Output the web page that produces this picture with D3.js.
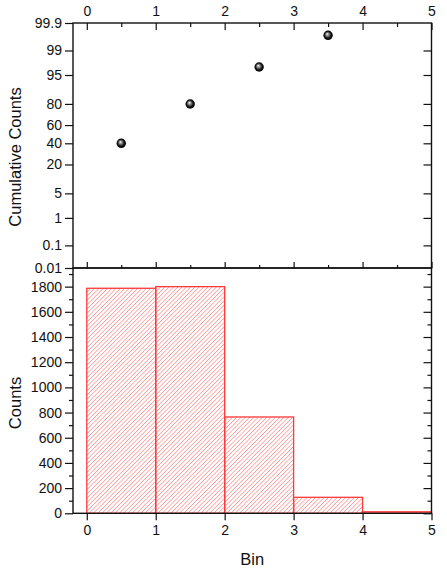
<!DOCTYPE html>
<html>
<head>
<meta charset="utf-8">
<script src="https://cdn.jsdelivr.net/npm/d3@7"></script>
<style>
  body { margin: 0; background: #fff; }
  text { font-family: "Liberation Sans", Arial, sans-serif; fill: #111; }
</style>
</head>
<body>
<script>
// ---------------- data ----------------
const binStarts = [0, 1, 2, 3, 4];
const binWidth = 1;
const counts = [1787, 1800, 765, 127, 12];
const cumX = [0.5, 1.5, 2.5, 3.5];
const cumPercent = [40, 79.9, 96.9, 99.7];
const probTicks = [0.01, 0.1, 1, 5, 20, 40, 60, 80, 95, 99, 99.9];
const probLabels = ["0.01", "0.1", "1", "5", "20", "40", "60", "80", "95", "99", "99.9"];
const binTicks = [0, 1, 2, 3, 4, 5];
const binMinor = [0.5, 1.5, 2.5, 3.5, 4.5];
const countTicks = [0, 200, 400, 600, 800, 1000, 1200, 1400, 1600, 1800];
const countMinor = [100, 300, 500, 700, 900, 1100, 1300, 1500, 1700, 1900];

// inverse normal cdf (Acklam) for the probability axis
function probit(p) {
  const a = [-39.69683028665376, 220.9460984245205, -275.9285104469687, 138.3577518672690, -30.66479806614716, 2.506628277459239];
  const b = [-54.47609879822406, 161.5858368580409, -155.6989798598866, 66.80131188771972, -13.28068155288572];
  const c = [-0.007784894002430293, -0.3223964580411365, -2.400758277161838, -2.549732539343734, 4.374664141464968, 2.938163982698783];
  const d = [0.007784695709041462, 0.3224671290700398, 2.445134137142996, 3.754408661907416];
  const pl = 0.02425;
  let q, r;
  if (p < pl) {
    q = Math.sqrt(-2 * Math.log(p));
    return (((((c[0]*q+c[1])*q+c[2])*q+c[3])*q+c[4])*q+c[5]) / ((((d[0]*q+d[1])*q+d[2])*q+d[3])*q+1);
  } else if (p <= 1 - pl) {
    q = p - 0.5; r = q * q;
    return (((((a[0]*r+a[1])*r+a[2])*r+a[3])*r+a[4])*r+a[5])*q / (((((b[0]*r+b[1])*r+b[2])*r+b[3])*r+b[4])*r+1);
  } else {
    q = Math.sqrt(-2 * Math.log(1 - p));
    return -(((((c[0]*q+c[1])*q+c[2])*q+c[3])*q+c[4])*q+c[5]) / ((((d[0]*q+d[1])*q+d[2])*q+d[3])*q+1);
  }
}

// ---------------- layout ----------------
const W = 447, H = 572;
const left = 73, right = 431.5;
const topY = 23, midY = 268, botY = 513.3;
const hatchGap = 4.3;

const svg = d3.select("body").append("svg")
  .attr("width", W).attr("height", H);

const defs = svg.append("defs");
const grad = defs.append("radialGradient").attr("id", "ball")
  .attr("cx", "50%").attr("cy", "50%").attr("r", "55%")
  .attr("fx", "40%").attr("fy", "35%");
grad.append("stop").attr("offset", "0%").attr("stop-color", "#fff");
grad.append("stop").attr("offset", "25%").attr("stop-color", "#9a9a9a");
grad.append("stop").attr("offset", "65%").attr("stop-color", "#111");
grad.append("stop").attr("offset", "100%").attr("stop-color", "#000");

// ---------------- scales ----------------
const x = d3.scaleLinear().domain([-0.2, 5]).range([left, right]);
const yz = d3.scaleLinear().domain([probit(0.0001), probit(0.999)]).range([midY, topY]);
const yc = d3.scaleLinear().domain([0, 1948]).range([botY, midY]);

function styleAxis(g) {
  g.select(".domain").remove();
  g.selectAll("line").attr("stroke", "#111").attr("stroke-width", 1.2);
  g.selectAll("text").attr("font-size", 14);
}

// ---------------- top panel ----------------
svg.append("g").attr("transform", `translate(0,${topY})`)
  .call(d3.axisTop(x).tickValues(binTicks).tickFormat(d3.format("d"))
    .tickSizeInner(-7).tickSizeOuter(0).tickPadding(7))
  .call(styleAxis);
svg.append("g").attr("transform", `translate(0,${topY})`)
  .call(d3.axisTop(x).tickValues(binMinor).tickFormat("").tickSizeInner(-4).tickSizeOuter(0))
  .call(styleAxis);
svg.append("g").attr("transform", `translate(0,${midY})`)
  .call(d3.axisBottom(x).tickValues(binTicks).tickFormat("").tickSizeInner(-6).tickSizeOuter(0))
  .call(styleAxis);
svg.append("g").attr("transform", `translate(0,${midY})`)
  .call(d3.axisBottom(x).tickValues(binMinor).tickFormat("").tickSizeInner(-3).tickSizeOuter(0))
  .call(styleAxis);

// probability axis
const zTicks = probTicks.map(p => probit(p / 100));
svg.append("g").attr("transform", `translate(${left},0)`)
  .call(d3.axisLeft(yz).tickValues(zTicks).tickFormat((d, i) => probLabels[i])
    .tickSizeInner(8).tickSizeOuter(0).tickPadding(3))
  .call(styleAxis);
svg.append("g").attr("transform", `translate(${right},0)`)
  .call(d3.axisRight(yz).tickValues(zTicks.slice(1, -1)).tickFormat("")
    .tickSizeInner(-8).tickSizeOuter(0))
  .call(styleAxis);

svg.append("g").selectAll("circle")
  .data(cumX.map((v, i) => ({ x: v, p: cumPercent[i] })))
  .join("circle")
  .attr("cx", d => x(d.x))
  .attr("cy", d => yz(probit(d.p / 100)))
  .attr("r", 4.7)
  .attr("fill", "url(#ball)");

svg.append("text")
  .attr("transform", "translate(21,157) rotate(-90)")
  .attr("text-anchor", "middle")
  .attr("font-size", 16.5)
  .text("Cumulative Counts");

// ---------------- bottom panel ----------------
const bars = binStarts.map((b, i) => ({
  i: i,
  x0: x(b), x1: x(b + binWidth),
  y0: yc(counts[i]), y1: yc(0)
}));

// hatch lines, clipped to each bar
bars.forEach(d => {
  defs.append("clipPath").attr("id", "clip" + d.i)
    .append("rect")
    .attr("x", d.x0).attr("y", d.y0)
    .attr("width", d.x1 - d.x0).attr("height", d.y1 - d.y0);
  const h = d.y1 - d.y0;
  const starts = d3.range(x(0) - 260, d.x1 + hatchGap, hatchGap);
  svg.append("g").attr("clip-path", `url(#clip${d.i})`)
    .selectAll("line").data(starts).join("line")
    .attr("x1", s => s).attr("y1", botY)
    .attr("x2", s => s + 260).attr("y2", botY - 260)
    .attr("stroke", "#ff7070").attr("stroke-width", 0.75);
});

svg.append("g").selectAll("rect")
  .data(bars)
  .join("rect")
  .attr("x", d => d.x0)
  .attr("y", d => d.y0)
  .attr("width", d => d.x1 - d.x0)
  .attr("height", d => d.y1 - d.y0)
  .attr("fill", "none")
  .attr("stroke", "#ff3a3a")
  .attr("stroke-width", 1.3);

svg.append("g").attr("transform", `translate(${left},0)`)
  .call(d3.axisLeft(yc).tickValues(countTicks).tickFormat(d3.format("d"))
    .tickSizeInner(8).tickSizeOuter(0).tickPadding(3))
  .call(styleAxis);
svg.append("g").attr("transform", `translate(${left},0)`)
  .call(d3.axisLeft(yc).tickValues(countMinor).tickFormat("").tickSizeInner(4).tickSizeOuter(0))
  .call(styleAxis);
svg.append("g").attr("transform", `translate(${right},0)`)
  .call(d3.axisRight(yc).tickValues(countTicks).tickFormat("").tickSizeInner(-8).tickSizeOuter(0))
  .call(styleAxis);
svg.append("g").attr("transform", `translate(${right},0)`)
  .call(d3.axisRight(yc).tickValues(countMinor).tickFormat("").tickSizeInner(-4).tickSizeOuter(0))
  .call(styleAxis);

svg.append("g").attr("transform", `translate(0,${botY})`)
  .call(d3.axisBottom(x).tickValues(binTicks).tickFormat(d3.format("d"))
    .tickSizeInner(7).tickSizeOuter(0).tickPadding(5))
  .call(styleAxis);

svg.append("text")
  .attr("transform", "translate(21,403) rotate(-90)")
  .attr("text-anchor", "middle")
  .attr("font-size", 16.5)
  .text("Counts");

svg.append("text")
  .attr("x", (left + right) / 2)
  .attr("y", 565)
  .attr("text-anchor", "middle")
  .attr("font-size", 16.5)
  .text("Bin");

// frames
[[topY, midY], [midY, botY]].forEach(([a, b]) => {
  svg.append("rect")
    .attr("x", left).attr("y", a)
    .attr("width", right - left).attr("height", b - a)
    .attr("fill", "none").attr("stroke", "#111").attr("stroke-width", 1.4);
});
</script>
</body>
</html>
